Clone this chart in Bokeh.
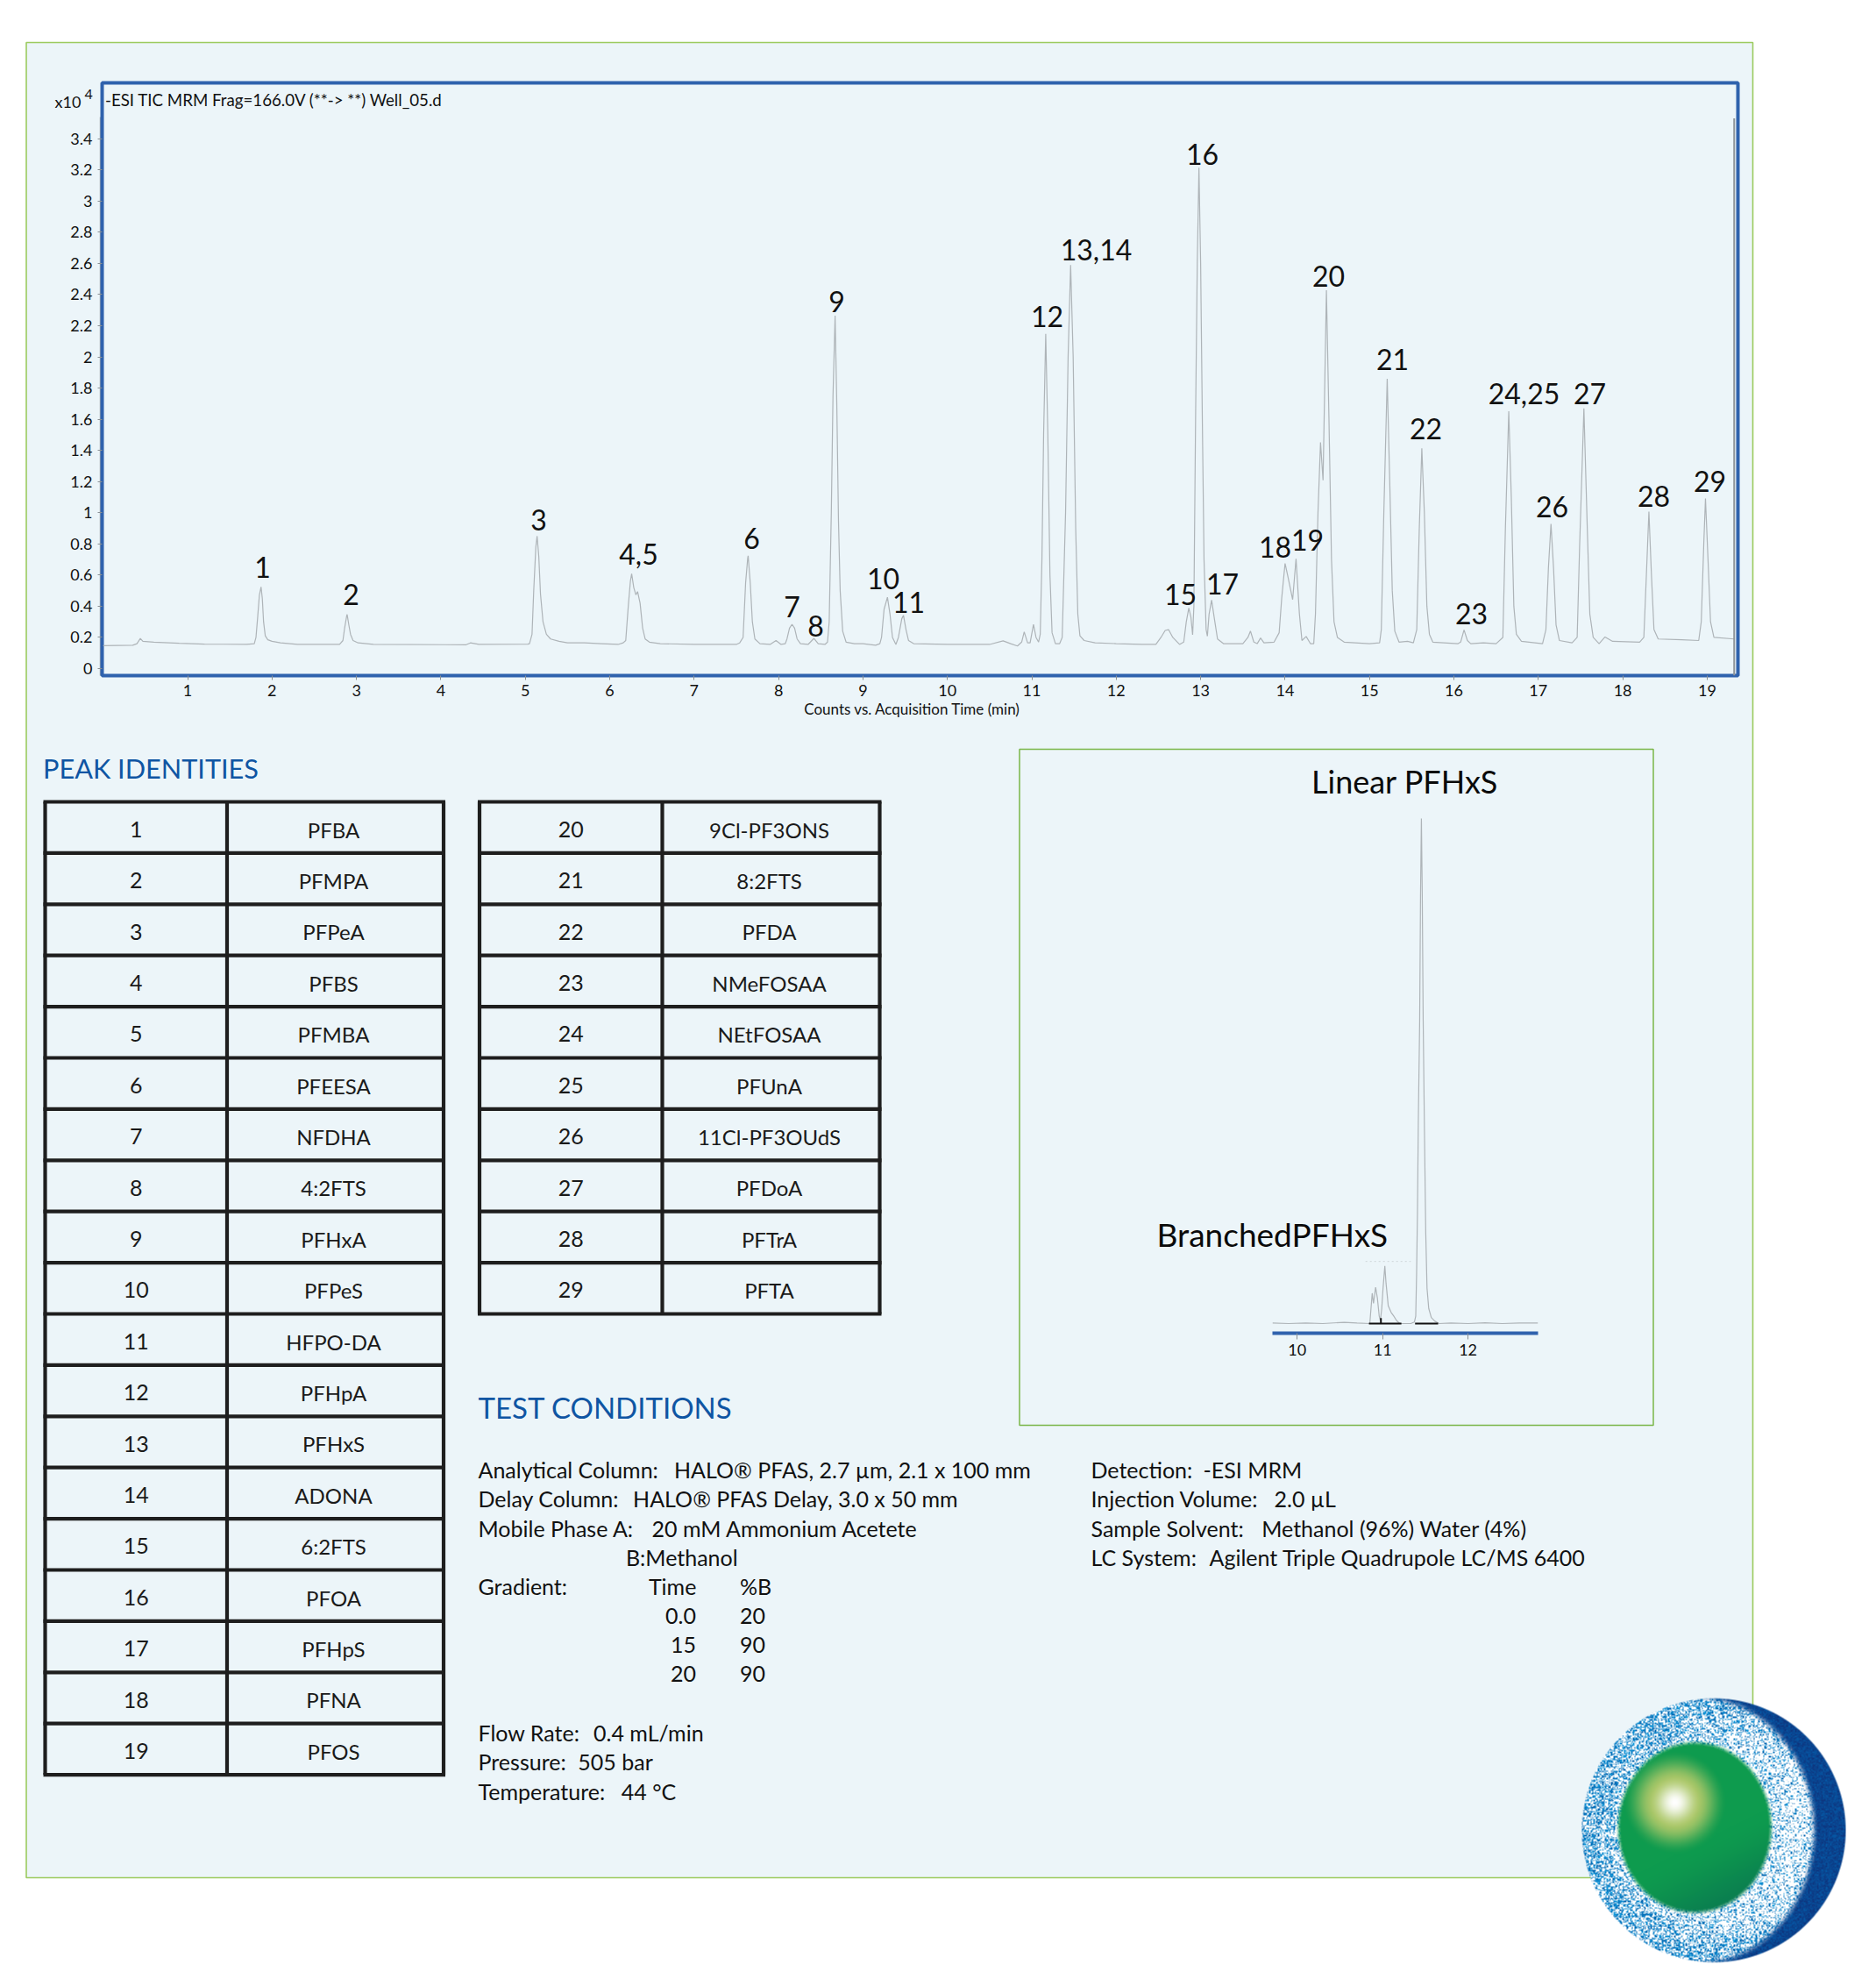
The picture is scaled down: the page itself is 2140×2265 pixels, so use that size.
import numpy as np
from bokeh.core.properties import value
from bokeh.embed import file_html
from bokeh.layouts import column
from bokeh.models import FixedTicker, Range1d
from bokeh.plotting import figure
from bokeh.resources import INLINE

# ---------------- data ----------------
trace_time = [0, .35, .40, .44, .47, .6, .9, 1.2, 1.7, 1.79, 1.81, 1.83, 1.85, 1.87, 1.885, 1.90, 1.92, 1.95, 2.0, 2.1, 2.3,
    2.80, 2.84, 2.86, 2.885, 2.89, 2.91, 2.93, 2.96, 3.02, 3.2, 4.3, 4.35, 4.45, 5.03,
    5.05, 5.08, 5.10, 5.125, 5.14, 5.16, 5.18, 5.21, 5.25, 5.3, 5.4, 5.5, 5.7, 5.9, 6.1, 6.16,
    6.19, 6.22, 6.245, 6.26, 6.285, 6.31, 6.33, 6.36, 6.39, 6.42, 6.47, 6.6, 7.0, 7.5,
    7.54, 7.58, 7.61, 7.635, 7.64, 7.665, 7.69, 7.72, 7.78, 7.9, 7.97, 8.03, 8.08,
    8.10, 8.13, 8.16, 8.19, 8.22, 8.26, 8.35, 8.42, 8.47, 8.55,
    8.58, 8.6, 8.625, 8.645, 8.67, 8.69, 8.71, 8.73, 8.76, 8.8, 8.9, 9.0, 9.15, 9.2,
    9.22, 9.25, 9.29, 9.32, 9.35, 9.39, 9.42, 9.46, 9.48, 9.51, 9.54, 9.6, 10, 10.5, 10.66, 10.75, 10.83,
    10.88, 10.91, 10.95, 10.98, 11.02, 11.05, 11.08,
    11.1, 11.12, 11.14, 11.165, 11.19, 11.215, 11.24, 11.28, 11.33,
    11.36, 11.4, 11.43, 11.46, 11.49, 11.52, 11.545, 11.57, 11.62, 11.75, 12.0, 12.3, 12.47,
    12.53, 12.58, 12.62, 12.67, 12.75, 12.8, 12.83, 12.86, 12.885, 12.905, 12.92, 12.94, 12.96, 12.98, 13.0, 13.02, 13.04, 13.065, 13.08,
    13.1, 13.13, 13.16, 13.2, 13.27, 13.5, 13.56, 13.59, 13.63, 13.67, 13.71, 13.75, 13.87,
    13.93, 13.96, 14.0, 14.03, 14.09, 14.13, 14.17, 14.2, 14.25, 14.3, 14.34,
    14.36, 14.39, 14.42, 14.45, 14.49, 14.52, 14.55, 14.58, 14.62, 14.7, 15.0, 15.12,
    15.14, 15.17, 15.21, 15.24, 15.27, 15.3, 15.35, 15.45, 15.52,
    15.56, 15.59, 15.62, 15.65, 15.68, 15.71, 15.75, 16.05, 16.08, 16.12, 16.16, 16.2, 16.35, 16.5,
    16.58, 16.61, 16.65, 16.68, 16.71, 16.74, 16.8, 17.05,
    17.09, 17.12, 17.15, 17.18, 17.21, 17.25, 17.4, 17.46,
    17.49, 17.54, 17.58, 17.61, 17.65, 17.72, 17.79, 17.88, 18.2, 18.25, 18.28, 18.31, 18.34, 18.37, 18.42, 18.7, 18.9,
    18.93, 18.96, 18.98, 19.01, 19.04, 19.08, 19.32]
trace_signal = [.147, .15, .16, .193, .175, .17, .163, .157, .155, .16, .2, .33, .47, .524, .45, .30, .21, .185, .175, .165, .155,
    .155, .18, .26, .34, .347, .28, .22, .18, .165, .155, .153, .165, .155, .157,
    .16, .22, .5, .78, .85, .72, .48, .3, .22, .19, .175, .165, .165, .16, .155, .165,
    .18, .4, .56, .609, .52, .473, .494, .42, .26, .19, .17, .16, .155, .155,
    .165, .2, .55, .71, .724, .55, .3, .19, .16, .155, .18, .155, .16,
    .19, .26, .284, .26, .19, .16, .155, .194, .16, .155,
    .17, .3, 1.0, 1.75, 2.265, 1.7, .95, .5, .24, .17, .16, .16, .15, .16,
    .2, .38, .458, .35, .2, .155, .2, .32, .341, .25, .18, .16, .155, .155, .178, .16, .145,
    .17, .236, .165, .165, .284, .2, .17,
    .22, .7, 1.5, 2.148, 1.5, .6, .23, .16, .16,
    .2, 1.0, 2.0, 2.59, 2.0, .9, .35, .21, .18, .165, .16, .155, .155,
    .2, .245, .25, .2, .155, .17, .3, .389, .33, .217, .4, 1.6, 2.6, 3.214, 2.6, 1.6, .7, .25, .208,
    .35, .44, .33, .19, .16, .16, .2, .241, .17, .16, .196, .165, .17,
    .23, .45, .675, .6, .443, .705, .35, .18, .206, .16, .16,
    .35, 1.0, 1.452, 1.208, 2.428, 1.6, .7, .3, .2, .17, .16, .165,
    .25, 1.0, 1.859, 1.2, .5, .24, .17, .175, .165,
    .25, .9, 1.413, 1.0, .4, .22, .17, .16, .17, .248, .18, .16, .165, .16,
    .2, .9, 1.651, 1.1, .4, .22, .175, .16,
    .25, .65, .928, .65, .28, .18, .165, .2,
    .8, 1.669, .9, .35, .2, .16, .203, .175, .17, .2, .6, 1.007, .6, .25, .19, .185, .18,
    .3, .8, 1.091, .7, .3, .2, .19]

x_ticks = list(range(1, 20))
y_ticks = [0, .2, .4, .6, .8, 1, 1.2, 1.4, 1.6, 1.8, 2, 2.2, 2.4, 2.6, 2.8, 3, 3.2, 3.4]
y_tick_labels = ["0", "0.2", "0.4", "0.6", "0.8", "1", "1.2", "1.4", "1.6", "1.8", "2", "2.2", "2.4", "2.6", "2.8", "3", "3.2", "3.4"]

inset_time = [9.71, 9.9, 10.1, 10.3, 10.55, 10.7, 10.85, 10.878, 10.893, 10.918, 10.939, 10.96, 10.974, 10.99, 11.005, 11.026, 11.04,
    11.066, 11.10, 11.13, 11.163, 11.2, 11.33, 11.372, 11.388, 11.398, 11.408, 11.418, 11.434, 11.444, 11.454, 11.464, 11.475,
    11.49, 11.505, 11.52, 11.54, 11.57, 11.61, 11.66, 11.8, 12.0, 12.2, 12.4, 12.6, 12.82]
inset_signal = [.1, 0, .1, .0, .25, .1, 0, 6, 4, 7.2, 5, 1.5, .6, 3, 7, 11.4, 8,
    3.5, 2.2, 1.5, .6, 0, 0, .3, 1.5, 10, 22, 40, 60, 85, 100, 85, 60,
    38, 18, 7, 3, 1.2, .5, 0, .1, 0, .15, 0, .1, .1]
inset_ticks = [10, 11, 12]
integration_start = [10.84, 11.38]
integration_end = [11.22, 11.65]

peak_numbers = ["1", "2", "3", "4", "5", "6", "7", "8", "9", "10", "11", "12", "13", "14", "15", "16", "17", "18", "19",
                "20", "21", "22", "23", "24", "25", "26", "27", "28", "29"]
peak_names = ["PFBA", "PFMPA", "PFPeA", "PFBS", "PFMBA", "PFEESA", "NFDHA", "4:2FTS", "PFHxA", "PFPeS", "HFPO-DA", "PFHpA",
              "PFHxS", "ADONA", "6:2FTS", "PFOA", "PFHpS", "PFNA", "PFOS",
              "9Cl-PF3ONS", "8:2FTS", "PFDA", "NMeFOSAA", "NEtFOSAA", "PFUnA", "11Cl-PF3OUdS", "PFDoA", "PFTrA", "PFTA"]
peak_label_text = ["1", "2", "3", "4,5", "6", "7", "8", "9", "10", "11", "12", "13,14", "15", "16", "17", "18", "19", "20", "21",
                   "22", "23", "24,25", "26", "27", "28", "29"]

# ---------------- layout constants (page pixels) ----------------
FONT = "Lato"
W, H = 2124, 2249
INK = "#111111"
BLUE_HEAD = "#0f55a3"
BASE_FIX = 0.41  # alphabetic text is drawn this many em low
PEAK_LABEL_POS = [(299, 660), (400, 691), (614, 606), (728, 645), (857, 627), (903, 705), (930, 727), (954, 357), (1007, 673),
                  (1036, 700), (1194, 374), (1250, 297), (1346, 691), (1371, 188), (1394, 679), (1454, 637), (1491, 629),
                  (1515, 328), (1588, 423), (1626, 502), (1678, 713), (1738, 462), (1770, 591), (1813, 462), (1886, 579), (1950, 562)]
px_to_t = lambda px: (px - 117.2) / 96.3
py_to_v = lambda py: (762.3 - py) / 177.9
Y = lambda py: 2265 - py

# ---------------- page background figure ----------------
bg = figure(width=W, height=H, x_range=Range1d(0, W), y_range=Range1d(2265 - H, 2265),
            output_backend="svg", toolbar_location=None, min_border=0, outline_line_color=None,
            background_fill_color="white", border_fill_color="white", frame_align=False)
bg.axis.visible = False
bg.grid.visible = False


def put(x, py, s, size, color=INK, align="left"):
    bg.text([x], [Y(py - BASE_FIX * size)], text=[s], text_font=value(FONT), text_font_size=f"{size}px",
            text_color=color, text_align=align, text_baseline="alphabetic")


bg.quad(left=[29.5], right=[1999], top=[Y(48)], bottom=[Y(2141)], fill_color="#ecf5f9", line_color="#9ccb5f", line_width=1.6)
bg.quad(left=[1162.5], right=[1885.5], top=[Y(854)], bottom=[Y(1625)], fill_color="#ecf5f9", line_color="#7ab648", line_width=1.5)

put(48.5, 889, "PEAK IDENTITIES", 30.7, BLUE_HEAD)
put(545, 1618, "TEST CONDITIONS", 33, BLUE_HEAD)

# tables
ROW = 58.4
TOP = 914


def table(x0, xm, x1, numbers, names):
    n = len(numbers)
    ys = [Y(TOP + i * ROW) for i in range(n + 1)]
    bg.segment(x0=[x0 - 2] * (n + 1), x1=[x1 + 2] * (n + 1), y0=ys, y1=ys, line_color="#1e1e1e", line_width=4.2)
    bg.segment(x0=[x0, xm, x1], x1=[x0, xm, x1], y0=[Y(TOP)] * 3, y1=[Y(TOP + n * ROW)] * 3, line_color="#1e1e1e", line_width=4.2)
    for i in range(n):
        put((x0 + xm) / 2, TOP + i * ROW + 41.5, numbers[i], 25, "#1a1a1a", "center")
        put((xm + x1) / 2 - 2, TOP + i * ROW + 41.5, names[i], 24, "#1a1a1a", "center")


table(51, 258.5, 505.5, peak_numbers[:19], peak_names[:19])
table(546.5, 755, 1003, peak_numbers[19:], peak_names[19:])

# test conditions
S = 25
for x, py, s in [
    (545, 1686, "Analytical Column:"), (768.5, 1686, "HALO\u00ae PFAS, 2.7 \u00b5m, 2.1 x 100 mm"),
    (545, 1719, "Delay Column:"), (721.6, 1719, "HALO\u00ae PFAS Delay, 3.0 x 50 mm"),
    (545, 1753, "Mobile Phase A:"), (743, 1753, "20 mM Ammonium Acetete"),
    (713.4, 1786, "B:Methanol"),
    (545, 1819, "Gradient:"), (739.4, 1819, "Time"), (843.5, 1819, "%B"),
    (843.5, 1853, "20"), (843.5, 1886, "90"), (843.5, 1919, "90"),
    (545, 1986, "Flow Rate:"), (676.5, 1986, "0.4 mL/min"),
    (545, 2019, "Pressure:"), (658.8, 2019, "505 bar"),
    (545, 2053, "Temperature:"), (708.3, 2053, "44 \u00b0C"),
    (1244, 1686, "Detection:"), (1372, 1686, "-ESI MRM"),
    (1244, 1719, "Injection Volume:"), (1453, 1719, "2.0 \u00b5L"),
    (1244, 1753, "Sample Solvent:"), (1438.7, 1753, "Methanol (96%) Water (4%)"),
    (1244, 1786, "LC System:"), (1379, 1786, "Agilent Triple Quadrupole LC/MS 6400"),
]:
    put(x, py, s, S)
for py, s in [(1853, "0.0"), (1886, "15"), (1919, "20")]:
    put(793.5, py, s, S, align="right")

# chart header texts
put(62, 123, "x10", 18)
put(96, 114, "4", 16)
put(119.5, 121, "-ESI TIC MRM Frag=166.0V (**-> **) Well_05.d", 18.7)
bg.segment(x0=[114], x1=[114], y0=[Y(133)], y1=[Y(770)], line_color="#a8aeb2", line_width=1.5)

# inset labels
put(1495.5, 905, "Linear PFHxS", 36, "#0a0a0a")
put(1319, 1422, "BranchedPFHxS", 37, "#0a0a0a")


# core-shell particle illustration (deterministic texture)
def smooth(a, b, v):
    u = np.clip((v - a) / (b - a), 0, 1)
    return u * u * (3 - 2 * u)


def mix(a, b, w):
    return a * (1 - w[..., None]) + np.array(b, float) * w[..., None]


BX, BY, BS = 1800, 1933, 308
OX = 1954.5  # disk centre
ii, jj = np.mgrid[0:BS, 0:BS]
px = BX + jj + 0.5
py = BY + BS - 0.5 - ii
cx, cy = np.floor(px / 1.25), np.floor(py / 1.25)
grain = np.modf(np.abs(np.sin(cx * 12.9898 + cy * 78.233) * 43758.5453))[0]
grain2 = np.modf(np.abs(np.sin(cx * 39.346 + cy * 11.135) * 24634.6345))[0]
rad = np.hypot(px - OX, py - 2087)
alpha = np.clip(150.5 - rad + 0.5, 0, 1)
front = np.hypot((px - OX + 19) / 132, (py - 2087) / 150)
crescent = smooth(0.97, 1.05, front)
# speckled shell
density = 0.40 + 0.20 * smooth(0.65, 1.0, rad / 150) - 0.12 * smooth(-40, 110, px - OX)
speck = np.clip((density - grain) * 7, 0, 1)
img = np.full((BS, BS, 3), 255.0)
shell = mix(np.full((BS, BS, 3), np.array([20, 160, 225], float)), (6, 95, 170), grain2)
img = img * (1 - speck[..., None]) + shell * speck[..., None]
dark = mix(np.full((BS, BS, 3), np.array([14, 52, 125], float)), (6, 88, 165), grain2)
dark_speck = np.clip((0.97 - grain * (1.0 - 0.95 * crescent)) * 2, 0, 1)
w = crescent * dark_speck
img = img * (1 - w[..., None]) + dark * w[..., None]
# green core
core = np.hypot((px - OX + 21.7) / 88, (py - 2083.8) / 97.7)
core_w = 1 - smooth(0.95, 1.03, core)
green = np.full((BS, BS, 3), np.array([14, 155, 78], float))
green = mix(green, (10, 122, 80), smooth(20, 130, (px - OX + 21.7) * 0.5 + (py - 2084)))
hd = np.hypot(px - OX + 44.3, py - 2055)
green = mix(green, (172, 200, 105), 1 - smooth(24, 60, hd))
green = mix(green, (255, 255, 255), 1 - smooth(0, 30, hd))
img = img * (1 - core_w[..., None]) + green * core_w[..., None]
rgba = np.dstack([np.clip(img, 0, 255), alpha * 255]).astype(np.uint8)
bg.image_rgba(image=[rgba.view(dtype=np.uint32).reshape(BS, BS)], x=[BX], y=[Y(BY + BS)], dw=[BS], dh=[BS])

# ---------------- chromatogram ----------------
CH = 838
chart = figure(width=W, height=CH, x_range=Range1d(px_to_t(116), px_to_t(1982)), y_range=Range1d(py_to_v(770.3), py_to_v(93.7)),
               output_backend="svg", toolbar_location=None, min_border_left=116, min_border_right=W - 1982, min_border_top=94,
               min_border_bottom=CH - 770, background_fill_alpha=0, border_fill_alpha=0, frame_align=False,
               outline_line_color="#2f62ad", outline_line_width=4, margin=(-H, 0, 0, 0))
chart.grid.visible = False
chart.xaxis.ticker = FixedTicker(ticks=x_ticks)
chart.yaxis.ticker = FixedTicker(ticks=y_ticks)
chart.yaxis.major_label_overrides = dict(zip(y_ticks, y_tick_labels))
for ax in (chart.xaxis[0], chart.yaxis[0]):
    ax.axis_line_color = None
    ax.major_tick_line_color = "#8a9094"
    ax.major_tick_out = 5
    ax.major_tick_in = 0
    ax.minor_tick_line_color = None
    ax.major_label_text_font = FONT
    ax.major_label_text_font_size = "18px"
    ax.major_label_text_color = INK
chart.xaxis.major_label_standoff = 5
chart.yaxis.major_label_standoff = 6
chart.xaxis.axis_label = "Counts vs.  Acquisition Time (min)" + "\u00a0" * 3
chart.xaxis.axis_label_text_font = FONT
chart.xaxis.axis_label_text_font_style = "normal"
chart.xaxis.axis_label_text_font_size = "17px"
chart.xaxis.axis_label_text_color = INK
chart.xaxis.axis_label_standoff = 1

chart.line(trace_time, trace_signal, line_color="#aeb4b8", line_width=1.2)
chart.segment(x0=[19.32], x1=[19.32], y0=[-0.045], y1=[3.53], line_color="#8f9599", line_width=2)
chart.text([px_to_t(p[0]) for p in PEAK_LABEL_POS], [py_to_v(p[1] - BASE_FIX * 32) for p in PEAK_LABEL_POS], text=peak_label_text,
           text_font=value(FONT), text_font_size="32px", text_color=INK, text_align="center", text_baseline="alphabetic")

# ---------------- inset ----------------
top_px, left_px, ih = 915, 1429, 650
inset_w = 350
inset = figure(width=inset_w, height=ih, x_range=Range1d(9.71, 12.82), y_range=Range1d(-1.91, 101.4),
               output_backend="svg", toolbar_location=None, min_border_left=22, min_border_right=inset_w - 22 - 303,
               min_border_top=10, min_border_bottom=ih - 10 - 595, background_fill_alpha=0, border_fill_alpha=0,
               outline_line_color=None, frame_align=False, margin=(top_px - CH, 0, 0, left_px))
inset.grid.visible = False
inset.yaxis.visible = False
inset.xaxis.ticker = FixedTicker(ticks=inset_ticks)
ax = inset.xaxis[0]
ax.axis_line_color = "#2f62ad"
ax.axis_line_width = 4
ax.major_tick_line_color = "#8a9094"
ax.major_tick_out = 7
ax.major_tick_in = 0
ax.minor_tick_line_color = None
ax.major_label_text_font = FONT
ax.major_label_text_font_size = "18px"
ax.major_label_text_color = INK
ax.major_label_standoff = 5
inset.line(inset_time, inset_signal, line_color="#aeb4b8", line_width=1.2)
inset.segment(x0=integration_start + [10.98], x1=integration_end + [10.98], y0=[0, 0, 0], y1=[0, 0, 1.1],
              line_color="#111111", line_width=2)
inset.segment(x0=[10.8], x1=[11.33], y0=[12.3], y1=[12.3], line_color="#cfd6d9", line_width=1, line_dash="2 3")

open("out.html", "w").write(file_html(column(bg, chart, inset), INLINE))
